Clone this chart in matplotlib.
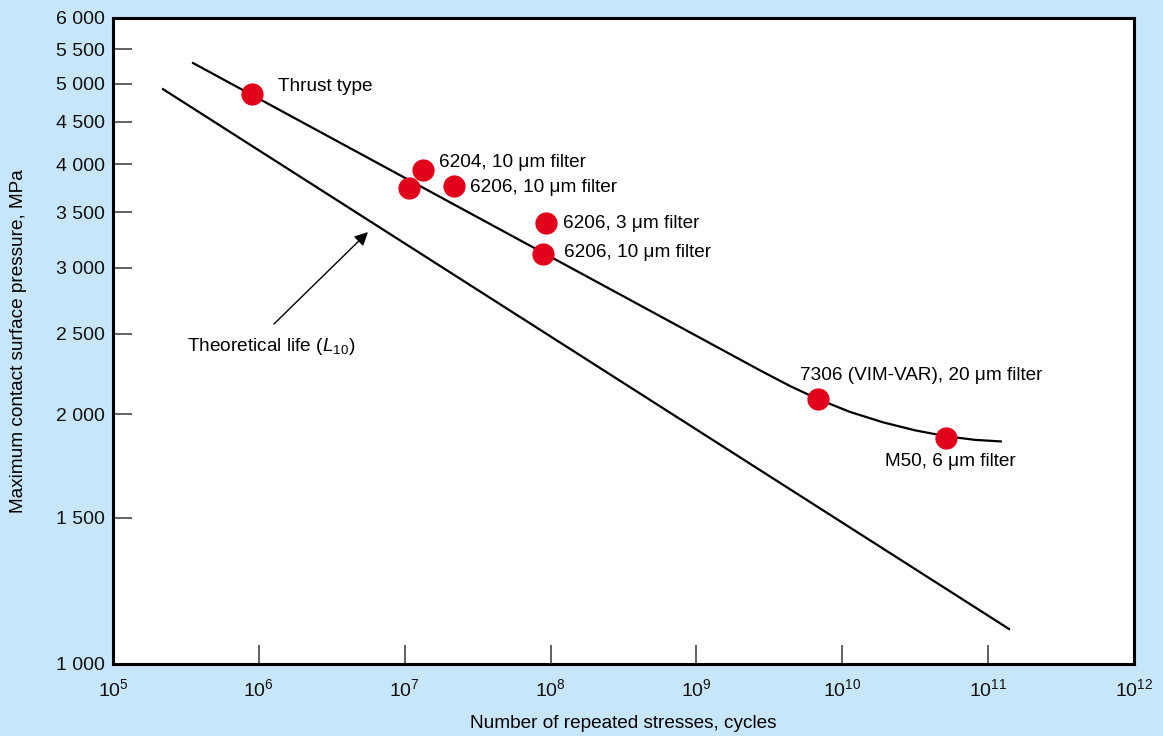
import math
import matplotlib
matplotlib.use('Agg')
import matplotlib.pyplot as plt
from matplotlib.ticker import FixedLocator, NullLocator, FuncFormatter

plt.rcParams['font.family'] = ['Liberation Sans', 'DejaVu Sans']
plt.rcParams['mathtext.fontset'] = 'custom'
plt.rcParams['mathtext.rm'] = 'Liberation Sans'
plt.rcParams['mathtext.it'] = 'Liberation Sans:italic'

fondo = '#c8e6f9'
rojo = '#e2001a'

# ensayos (ciclos, presion MPa)
ciclos = [9.0e5, 1.33e7, 1.07e7, 2.18e7, 9.3e7, 8.87e7, 6.8e9, 5.14e10]
presion = [4860, 3936, 3744, 3765, 3398, 3117, 2085, 1872]
etiquetas = ['Thrust type', '6204, 10 μm filter', '', '6206, 10 μm filter',
             '6206, 3 μm filter', '6206, 10 μm filter',
             '7306 (VIM-VAR), 20 μm filter', 'M50, 6 μm filter']
# desplazamiento de la etiqueta (pixeles)
desp = [(26, 7), (16, 8), (0, 0), (16, -1), (17, -1), (21, 2), (-18, 24), (-61, -24)]

# curva experimental
curva_x = [3.54e5, 2.73e9, 4.38e9, 6.81e9, 1.13e10, 1.9e10, 3.15e10, 5.14e10, 8.13e10, 1.22e11]
curva_y = [5295, 2258, 2162, 2085, 2012, 1955, 1912, 1881, 1862, 1854]

# vida teorica L10
teo_x = [2.2e5, 1.39e11]
teo_y = [4926, 1102]

yticks = [1000, 1500, 2000, 2500, 3000, 3500, 4000, 4500, 5000, 5500, 6000]
xticks = [1e5, 1e6, 1e7, 1e8, 1e9, 1e10, 1e11, 1e12]

fig = plt.figure(figsize=(11.63, 7.36), dpi=100, facecolor=fondo)
ax = fig.add_axes([113/1163, 1-664/736, (1134-113)/1163, (664-18)/736])
ax.set_facecolor('white')

ax.plot(curva_x, curva_y, color='k', lw=1.6, zorder=2, solid_joinstyle='round')
ax.plot(teo_x, teo_y, color='k', lw=1.6, zorder=2)
ax.plot(ciclos, presion, ls='none', marker='o', ms=15, color=rojo, mec=rojo, zorder=3)

for x, y, t, (dx, dy) in zip(ciclos, presion, etiquetas, desp):
    if t:
        ax.annotate(t, (x, y), xytext=(dx, dy), textcoords='offset pixels',
                    ha='left', va='center', fontsize=13.7)

ax.annotate('', xy=(5.78e6, 3332), xytext=(1.23e6, 2554),
            arrowprops=dict(arrowstyle='-|>', color='k', lw=1.0, mutation_scale=20))
ax.text(3.22e5, 2415, r'Theoretical life ($\mathit{L}_{\mathrm{10}}$)', fontsize=13.7,
        ha='left', va='center')

ax.set_xscale('log')
ax.set_yscale('log')
ax.set_xlim(1e5, 1e12)
ax.set_ylim(1000, 6000)

ax.xaxis.set_major_locator(FixedLocator(xticks))
ax.xaxis.set_minor_locator(NullLocator())
ax.yaxis.set_major_locator(FixedLocator(yticks))
ax.yaxis.set_minor_locator(NullLocator())
ax.xaxis.set_major_formatter(FuncFormatter(lambda v, p: r'$10^{%d}$' % round(math.log10(v))))
ax.yaxis.set_major_formatter(FuncFormatter(lambda v, p: '{:,}'.format(int(v)).replace(',', ' ')))

ax.tick_params(axis='both', direction='in', length=14, width=1.3, color='#555555',
               labelsize=14, labelcolor='#111111')
ax.tick_params(axis='x', pad=10)
ax.tick_params(axis='y', pad=6)

for s in ax.spines.values():
    s.set_linewidth(2.2)
    s.set_color('k')

ax.set_xlabel('Number of repeated stresses, cycles', fontsize=13.7)
ax.set_ylabel('Maximum contact surface pressure, MPa', fontsize=13.7)
ax.xaxis.set_label_coords(0.5, -0.079)
ax.yaxis.set_label_coords(-0.084, 0.5)

fig.savefig('out.png', dpi=100, facecolor=fondo)
